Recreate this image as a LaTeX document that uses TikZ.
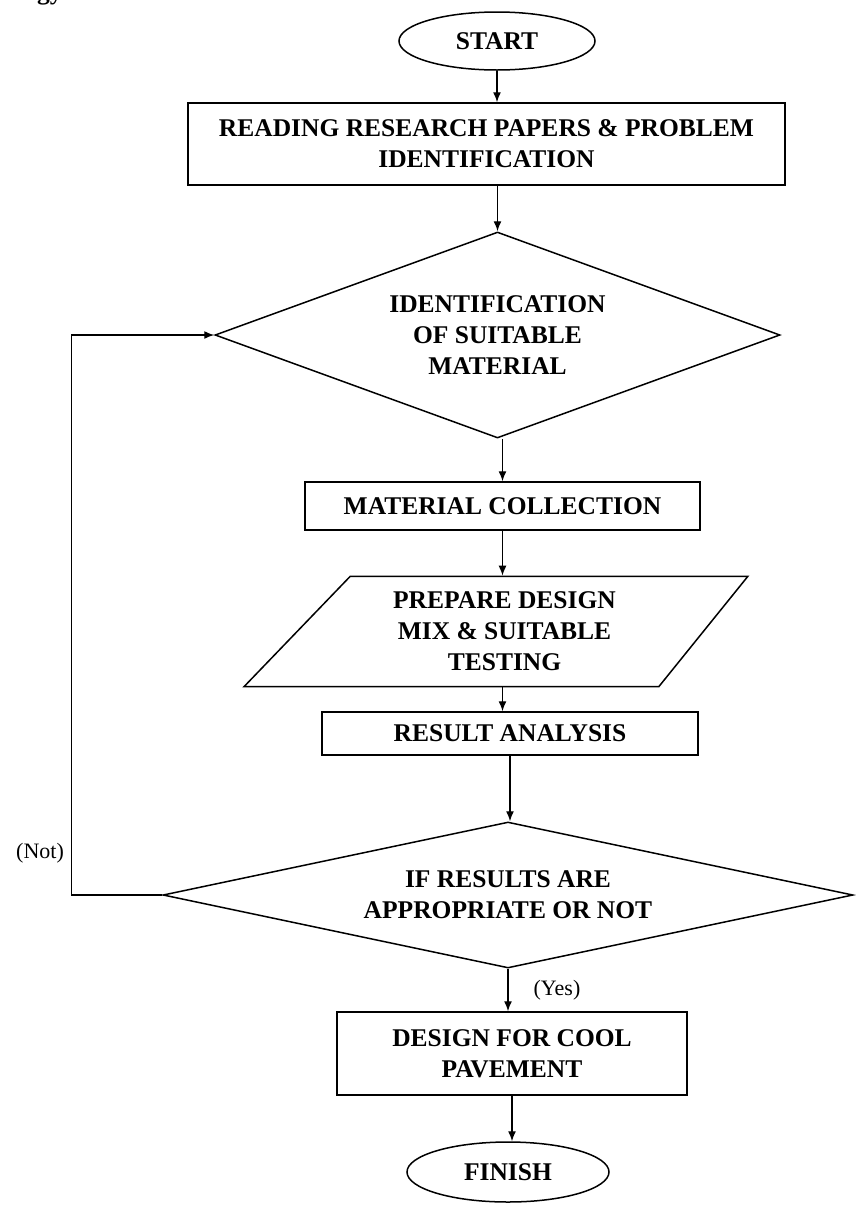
\documentclass[tikz,border=0pt]{standalone}
\usepackage{fontspec}
\setmainfont{Liberation Serif}
\usetikzlibrary{shapes.geometric,arrows.meta}
\begin{document}
\begin{tikzpicture}[x=1pt, y=-1pt, >={Latex[length=10pt, width=8pt]},
  every node/.style={font=\fontsize{25.5}{31}\selectfont\bfseries, align=center},
  shp/.style={draw, line width=1.5pt, inner sep=0pt},
  term/.style={shp, ellipse, minimum width=196pt, minimum height=58pt},
  box/.style={shp, rectangle},
  decide/.style={shp, diamond},
  io/.style={shp, trapezium, trapezium left angle=46, trapezium right angle=129},
  flow/.style={->, line width=1.4pt},
  lbl/.style={font=\fontsize{22}{26}\selectfont}]
  \useasboundingbox (0,0) rectangle (856,1211);
  % heading, cut off by the page
  \node[inner sep=0pt, anchor=base west] (head) at (37,-1) {gy};
  % Steps
  \node[term] (start) at (497,41) {START};
  \node[box, minimum width=597pt, minimum height=82pt] (read) at (486.5,144)
    {READING RESEARCH PAPERS \& PROBLEM\\IDENTIFICATION};
  \node[decide, shape aspect=2.74, minimum width=565pt, minimum height=206pt] (ident) at (497.5,335)
    {IDENTIFICATION\\OF SUITABLE\\MATERIAL};
  \node[box, minimum width=395pt, minimum height=48pt] (collect) at (502.5,506) {MATERIAL COLLECTION};
  \node[io, minimum width=507pt, minimum height=107pt] (prep) at (504.5,631.5)
    {PREPARE DESIGN\\MIX \& SUITABLE\\TESTING};
  \node[box, minimum width=376pt, minimum height=43pt] (result) at (510,733.5) {RESULT ANALYSIS};
  \node[decide, shape aspect=4.73, minimum width=690pt, minimum height=146pt] (check) at (508,895)
    {IF RESULTS ARE\\APPROPRIATE OR NOT};
  \node[box, minimum width=350pt, minimum height=83pt] (design) at (512,1053.5)
    {DESIGN FOR COOL\\PAVEMENT};
  \node[term, minimum width=202pt, minimum height=60pt] (finish) at (508,1172) {FINISH};
  % Arrows
  \draw[flow] (start.south) -- (start.south |- read.north);
  \draw[flow] (ident.north |- read.south) -- (ident.north);
  \draw[flow] (collect.north |- ident.south) -- (collect.north);
  \draw[flow] (collect.south) -- (collect.south |- prep.north);
  \draw[flow] (collect.south |- prep.south) -- (collect.south |- result.north);
  \draw[flow] (result.south) -- (result.south |- check.north);
  \draw[flow] (check.south) -- (check.south |- design.north);
  \draw[flow] (design.south) -- (design.south |- finish.north);
  % Loop back
  \draw[flow] (check.west) -- ++(-91,0) |- (ident.west);
  \node[lbl] (notlbl) at (40,853) {(Not)};
  \node[lbl] (yeslbl) at (557,990) {(Yes)};
\end{tikzpicture}
\end{document}
